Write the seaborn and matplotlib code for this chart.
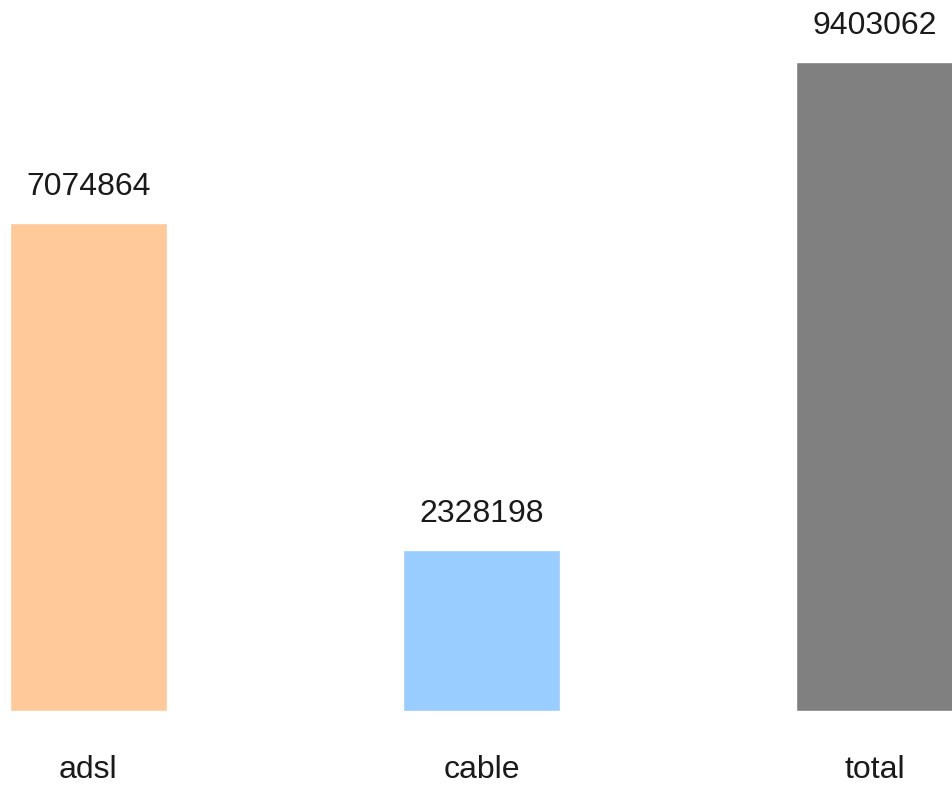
import matplotlib
matplotlib.use("Agg")
import matplotlib.pyplot as plt
import seaborn as sns
import pandas as pd

# Broadband connection counts
categories = ["adsl", "cable", "total"]
values = [7074864, 2328198, 9403062]
colors = ["#FFC999", "#99CCFF", "#808080"]

df = pd.DataFrame({"type": categories, "count": values})

sns.set_theme(style="white")
plt.rcParams["font.family"] = ["Liberation Sans", "DejaVu Sans"]

fig = plt.figure(figsize=(9.53, 7.89), dpi=100)
ax = fig.add_axes([0, 78 / 789, 1, 711 / 789])

sns.barplot(data=df, x="type", y="count", hue="type", palette=colors,
            width=0.4, saturation=1, legend=False, ax=ax)

ax.set_xlim(-0.225, 2.2)
ax.set_ylim(0, 10307800)

for p, v in zip(ax.patches, values):
    ax.annotate(f"{v}", (p.get_x() + p.get_width() / 2, p.get_height()),
                xytext=(0, 26), textcoords="offset points",
                ha="center", va="center", fontsize=23, color="#1a1a1a")

for s in ax.spines.values():
    s.set_visible(False)
ax.set_yticks([])
ax.set_xlabel("")
ax.set_ylabel("")
ax.tick_params(axis="x", length=0, pad=32, labelsize=23, labelcolor="#1a1a1a")

fig.savefig("out.png", dpi=100, facecolor="white")
